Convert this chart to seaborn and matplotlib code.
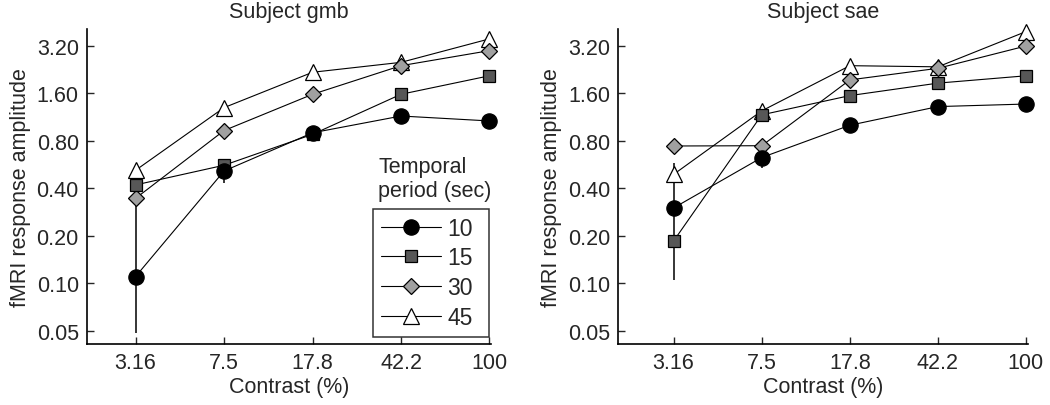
"""fMRI response amplitude vs contrast for two subjects, per temporal period."""
import matplotlib
matplotlib.use("Agg")
import matplotlib.pyplot as plt
import seaborn as sns
import pandas as pd
from matplotlib.lines import Line2D
from matplotlib.ticker import FixedLocator, NullLocator

contrast = [3.16, 7.5, 17.8, 42.2, 100]
contrast_labels = ["3.16", "7.5", "17.8", "42.2", "100"]
amp_ticks = [0.05, 0.10, 0.20, 0.40, 0.80, 1.60, 3.20]
amp_tick_labels = ["0.05", "0.10", "0.20", "0.40", "0.80", "1.60", "3.20"]
periods = ["10", "15", "30", "45"]

# subject gmb
gmb_10 = [0.11, 0.515, 0.90, 1.15, 1.07]
gmb_15 = [0.42, 0.56, 0.88, 1.58, 2.07]
gmb_30 = [0.345, 0.93, 1.58, 2.40, 2.99]
gmb_45 = [0.52, 1.30, 2.18, 2.52, 3.55]
gmb_10_lo = [0.048, 0.43, 0.90, 1.15, 1.07]
gmb_10_hi = [0.42, 0.59, 0.90, 1.15, 1.07]

# subject sae
sae_10 = [0.30, 0.627, 1.005, 1.32, 1.37]
sae_15 = [0.185, 1.17, 1.55, 1.86, 2.07]
sae_30 = [0.742, 0.745, 1.95, 2.31, 3.20]
sae_45 = [0.49, 1.24, 2.40, 2.36, 3.95]
sae_10_lo = [0.105, 0.54, 1.005, 1.32, 1.37]
sae_10_hi = [0.58, 0.68, 1.005, 1.32, 1.37]

marker_styles = {
    "10": dict(marker="o", markerfacecolor="black", markersize=11),
    "15": dict(marker="s", markerfacecolor="#575757", markersize=8.5),
    "30": dict(marker="D", markerfacecolor="#a0a0a0", markersize=8),
    "45": dict(marker="^", markerfacecolor="white", markersize=11.5),
}

subjects = {
    "gmb": ([gmb_10, gmb_15, gmb_30, gmb_45], gmb_10_lo, gmb_10_hi),
    "sae": ([sae_10, sae_15, sae_30, sae_45], sae_10_lo, sae_10_hi),
}

sns.set_style("ticks")
plt.rcParams["font.family"] = ["Liberation Sans", "DejaVu Sans"]
plt.rcParams["font.size"] = 15.5

fig = plt.figure(figsize=(10.5, 4.06), dpi=100)
ax_pos = {"gmb": [0.083, 0.150, 0.385, 0.776], "sae": [0.589, 0.150, 0.390, 0.776]}
x_left = {"gmb": 1.97, "sae": 1.84}

for name, (series, lo, hi) in subjects.items():
    ax = fig.add_axes(ax_pos[name])
    rows = []
    for p, vals in zip(periods, series):
        for c, v in zip(contrast, vals):
            rows.append({"contrast": c, "amp": v, "period": p})
    df = pd.DataFrame(rows)

    ax.errorbar(contrast, series[0],
                yerr=[[v - l for v, l in zip(series[0], lo)], [h - v for v, h in zip(series[0], hi)]],
                fmt="none", ecolor="black", elinewidth=1.1, capsize=0, zorder=1)

    for z, p in enumerate(reversed(periods)):
        sns.lineplot(data=df[df["period"] == p], x="contrast", y="amp", color="black",
                     linewidth=0.8, markeredgecolor="black", markeredgewidth=0.9,
                     clip_on=False, ax=ax, zorder=2 + z, **marker_styles[p])

    ax.set_xscale("log")
    ax.set_yscale("log", base=2)
    ax.set_xlim(x_left[name], 102)
    ax.set_ylim(0.041, 4.1)
    ax.xaxis.set_major_locator(FixedLocator(contrast))
    ax.xaxis.set_minor_locator(NullLocator())
    ax.set_xticklabels(contrast_labels)
    ax.yaxis.set_major_locator(FixedLocator(amp_ticks))
    ax.yaxis.set_minor_locator(NullLocator())
    ax.set_yticklabels(amp_tick_labels)
    ax.tick_params(direction="in", length=5, width=1, pad=6, labelsize=15.5)
    for s in ["top", "right"]:
        ax.spines[s].set_visible(False)
    for s in ["left", "bottom"]:
        ax.spines[s].set_linewidth(1.2)
        ax.spines[s].set_color("black")
    ax.set_xlabel("Contrast (%)", fontsize=15.5, labelpad=2)
    ax.set_ylabel("fMRI response amplitude", fontsize=15.5, labelpad=4)
    ax.set_title(f"Subject {name}", fontsize=15.5, pad=9)

    if name == "gmb":
        handles = [Line2D([], [], color="black", linewidth=0.8, markeredgecolor="black",
                          markeredgewidth=0.9, **marker_styles[p]) for p in periods]
        leg = ax.legend(handles, periods, loc="lower left", bbox_to_anchor=(0.707, 0.022, 0.286, 0.40),
                        mode="expand", frameon=True, fancybox=False, fontsize=16.5,
                        handlelength=2.6, handletextpad=0.3, labelspacing=0.3, borderaxespad=0,
                        borderpad=0.35)
        leg.get_frame().set_edgecolor("black")
        leg.get_frame().set_linewidth(1.1)
        ax.text(0.72, 0.455, "Temporal\nperiod (sec)", transform=ax.transAxes,
                fontsize=15.5, ha="left", va="bottom", linespacing=1.15)

fig.savefig("out.png", dpi=100)
